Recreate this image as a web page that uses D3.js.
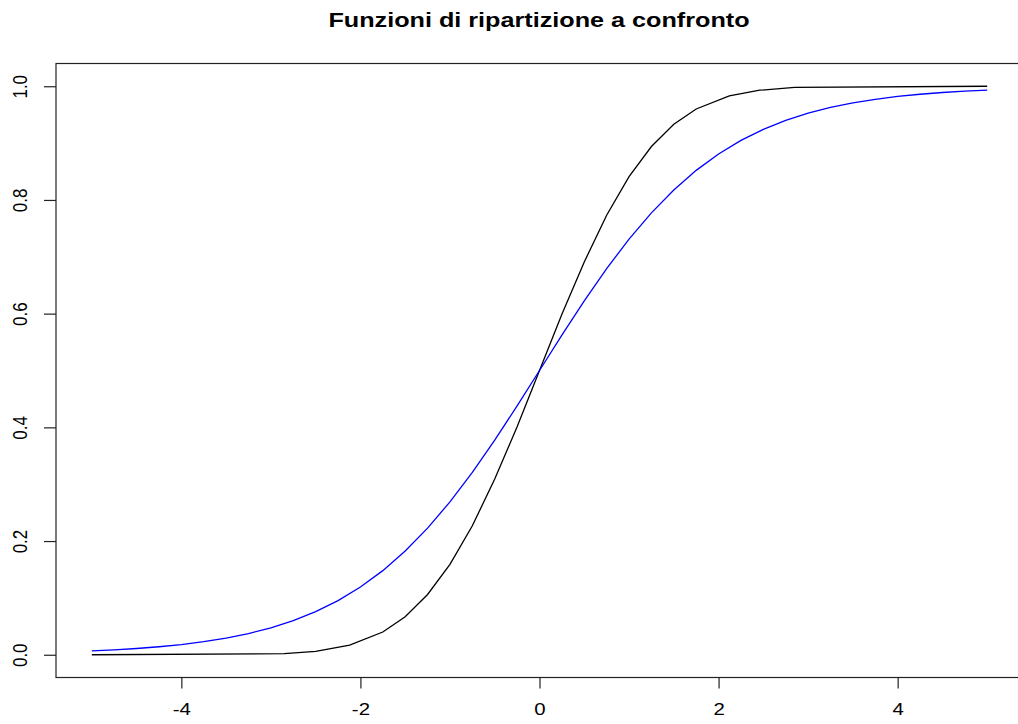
<!DOCTYPE html>
<html>
<head>
<meta charset="utf-8">
<script src="https://cdn.jsdelivr.net/npm/d3@7"></script>
<style>
  html, body { margin: 0; padding: 0; background: #ffffff; }
  svg { display: block; }
  text { font-family: "Liberation Sans", Arial, sans-serif; fill: #000; }
</style>
</head>
<body>
<svg id="chart" width="1018" height="724"></svg>
<script>
// Normal distribution function (black curve)
const normX = [-5, -2.85, -2.5, -2.12, -1.75, -1.5, -1.25, -1, -0.75, -0.5, -0.25, 0,
               0.25, 0.5, 0.75, 1, 1.25, 1.5, 1.75, 2.12, 2.46, 2.85, 5];
const normY = [0.000, 0.002, 0.006, 0.017, 0.040, 0.067, 0.106, 0.159, 0.227, 0.309, 0.401, 0.500,
               0.599, 0.691, 0.773, 0.841, 0.894, 0.933, 0.960, 0.983, 0.993, 0.998, 1.000];

// Logistic distribution function (blue curve)
const logisX = [-5, -4.75, -4.5, -4.25, -4, -3.75, -3.5, -3.25, -3, -2.75, -2.5, -2.25, -2,
                -1.75, -1.5, -1.25, -1, -0.75, -0.5, -0.25, 0, 0.25, 0.5, 0.75, 1, 1.25, 1.5,
                1.75, 2, 2.25, 2.5, 2.75, 3, 3.25, 3.5, 3.75, 4, 4.25, 4.5, 4.75, 5];
const logisY = [0.0067, 0.0086, 0.0110, 0.0141, 0.0180, 0.0230, 0.0293, 0.0373, 0.0474, 0.0601,
                0.0759, 0.0953, 0.1192, 0.1480, 0.1824, 0.2227, 0.2689, 0.3208, 0.3775, 0.4378,
                0.5000, 0.5622, 0.6225, 0.6792, 0.7311, 0.7773, 0.8176, 0.8520, 0.8808, 0.9047,
                0.9241, 0.9399, 0.9526, 0.9627, 0.9707, 0.9770, 0.9820, 0.9859, 0.9890, 0.9914, 0.9933];

const xTicks = [-4, -2, 0, 2, 4];
const yTicks = [0.0, 0.2, 0.4, 0.6, 0.8, 1.0];
const titleText = "Funzioni di ripartizione a confronto";

// Text is drawn slightly widened horizontally
const stretch = 1.2;

const svg = d3.select("#chart");

// Plot region, with 4% padding on each side of the data range
const x = d3.scaleLinear().domain([-5.4, 5.4]).range([56, 1023]);
const y = d3.scaleLinear().domain([-0.04, 1.04]).range([677.5, 63.5]);

// Frame
svg.append("rect")
  .attr("x", x.range()[0]).attr("y", y.range()[1])
  .attr("width", x.range()[1] - x.range()[0])
  .attr("height", y.range()[0] - y.range()[1])
  .attr("fill", "none").attr("stroke", "#222").attr("stroke-width", 1.2);

// X axis
const xAxis = d3.axisBottom(x).tickValues(xTicks).tickSize(11).tickPadding(14)
  .tickFormat(d => d3.format("d")(d).replace("−", "-"));
const gx = svg.append("g").attr("transform", `translate(0,${y.range()[0]})`).call(xAxis);
gx.select(".domain").remove();
gx.selectAll(".tick line").attr("stroke", "#222").attr("stroke-width", 1.2);
gx.selectAll(".tick text")
  .style("font-size", "17px").attr("fill", "#000")
  .attr("transform", `scale(${stretch},1)`);

// Y axis with rotated labels
const yAxis = d3.axisLeft(y).tickValues(yTicks).tickSize(12).tickFormat(d3.format(".1f"));
const gy = svg.append("g").attr("transform", `translate(${x.range()[0]},0)`).call(yAxis);
gy.select(".domain").remove();
gy.selectAll(".tick line").attr("stroke", "#222").attr("stroke-width", 1.2);
gy.selectAll(".tick text")
  .style("font-size", "17px")
  .attr("x", null).attr("dy", null)
  .attr("text-anchor", "middle")
  .attr("transform", `translate(-29,0) scale(${stretch},1) rotate(-90)`);

// Curves
const line = d3.line().x(d => x(d[0])).y(d => y(d[1]));
svg.append("path")
  .datum(normX.map((v, i) => [v, normY[i]]))
  .attr("d", line).attr("fill", "none")
  .attr("stroke", "#000").attr("stroke-width", 1.3);
svg.append("path")
  .datum(logisX.map((v, i) => [v, logisY[i]]))
  .attr("d", line).attr("fill", "none")
  .attr("stroke", "#0000ff").attr("stroke-width", 1.3);

// Title
svg.append("text")
  .attr("transform", `translate(539,27) scale(${stretch},1)`)
  .attr("text-anchor", "middle")
  .style("font-size", "21px").style("font-weight", "bold")
  .text(titleText);
</script>
</body>
</html>
